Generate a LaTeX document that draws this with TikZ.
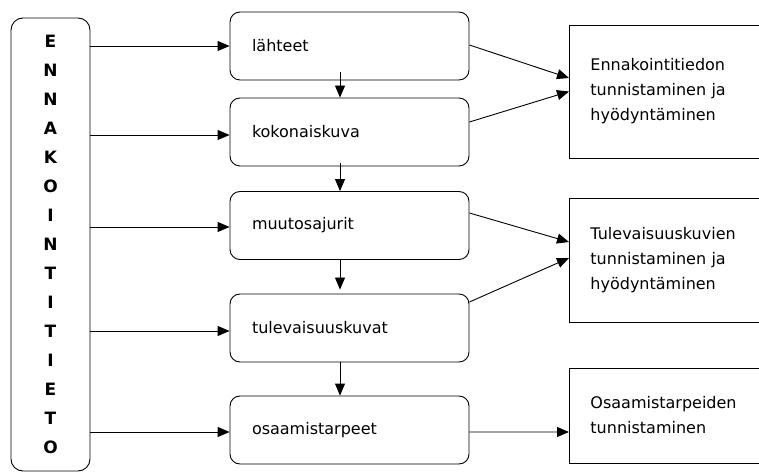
\documentclass[tikz,border=0pt]{standalone}
\usepackage{fontspec}
\setmainfont{DejaVu Sans}
\usetikzlibrary{arrows.meta,calc}
\begin{document}
\begin{tikzpicture}[x=1bp,y=-1bp,
  line width=0.9bp,
  arr/.style={-{Triangle[length=12bp,width=10bp]}},
  midbox/.style={draw,rounded corners=10bp,minimum width=239bp,minimum height=68bp,
    inner xsep=22bp,text width=195bp,align=left,font=\fontsize{16bp}{19bp}\selectfont},
  goalbox/.style={draw,minimum width=230bp,inner xsep=21bp,text width=188bp,align=left,
    anchor=west,font=\fontsize{16bp}{25bp}\selectfont},
  sidebox/.style={draw,rounded corners=12bp,minimum width=79bp,minimum height=453bp,
    align=center,font=\bfseries\fontsize{17bp}{29bp}\selectfont}]
\useasboundingbox (0,0) rectangle (759,473);
\clip (0,0) rectangle (759,473);

% vertical label box on the left
\node[sidebox] (L) at (50.5,244.5) {E\\N\\N\\A\\K\\O\\I\\N\\T\\I\\T\\I\\E\\T\\O};

% chain of process steps
\node[midbox] (b1) at (349.5,46)  {lähteet};
\node[midbox] (b2) at (349.5,132) {kokonaiskuva};
\node[midbox] (b3) at (349.5,225.5) {muutosajurit};
\node[midbox] (b4) at (349.5,328) {tulevaisuuskuvat};
\node[midbox] (b5) at (349.5,430) {osaamistarpeet};

% outcomes on the right
\node[goalbox,minimum height=133bp] (g1) at (569,91.5) {Ennakointitiedon\\tunnistaminen ja\\hyödyntäminen};
\node[goalbox,minimum height=124bp] (g2) at (569,260) {Tulevaisuuskuvien\\tunnistaminen ja\\hyödyntäminen};
\node[goalbox,minimum height=95bp] (g3) at (569,415.5) {Osaamistarpeiden\\tunnistaminen};

% inputs from the side box
\draw[arr] (L.east |- b1.west) -- (b1.west);
\draw[arr] (L.east |- {$(b2.west)+(0,3)$}) -- ($(b2.west)+(0,3)$);
\draw[arr] (L.east |- {$(b3.west)+(0,1.5)$}) -- ($(b3.west)+(0,1.5)$);
\draw[arr] (L.east |- {$(b4.west)+(0,3)$}) -- ($(b4.west)+(0,3)$);
\draw[arr] (L.east |- {$(b5.west)+(0,2)$}) -- ($(b5.west)+(0,2)$);

% steps in sequence
\draw[arr] ($(b1.south)+(-9.5,-8)$) -- ($(b2.north)+(-9.5,0)$);
\draw[arr] ($(b2.south)+(-9.5,-3)$) -- ($(b3.north)+(-9.5,0)$);
\draw[arr] ($(b3.south)+(-9.5,0)$) -- ($(b4.north)+(-9.5,-4)$);
\draw[arr] ($(b4.south)+(-9.5,0)$) -- ($(b5.north)+(-9.5,0)$);

% steps feeding the outcomes
\draw[arr] ($(b1.east)+(0,-1)$) -- ($(g1.west)+(0,-13.5)$);
\draw[arr] ($(b2.east)+(0,-10)$) -- (g1.west);
\draw[arr] ($(b3.east)+(0,-12.5)$) -- ($(g2.west)+(0,-18)$);
\draw[arr] ($(b4.east)+(0,-26)$) -- ($(g2.west)+(0,-2)$);
\draw[arr] ($(b5.east)+(0,2)$) -- ($(g3.west)+(0,16.5)$);
\end{tikzpicture}
\end{document}
